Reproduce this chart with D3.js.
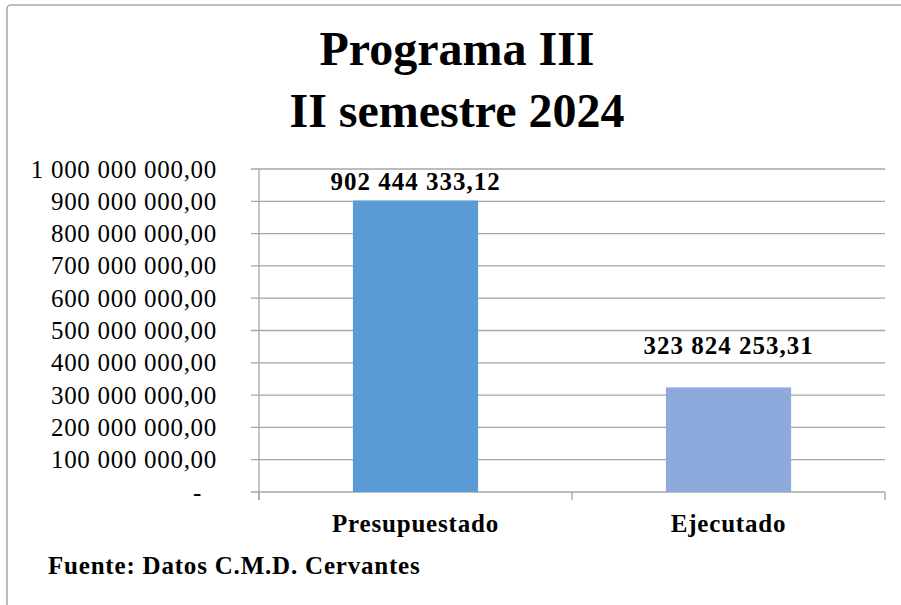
<!DOCTYPE html>
<html>
<head>
<meta charset="utf-8">
<script src="https://cdn.jsdelivr.net/npm/d3@7"></script>
<style>
  html, body { margin: 0; padding: 0; background: #fff; }
  svg { display: block; }
  text { font-family: "Liberation Serif", "Times New Roman", serif; fill: #000; }
</style>
</head>
<body>
<svg id="chart" width="901" height="605"></svg>
<script>
// ---- data ----
const categories = ["Presupuestado", "Ejecutado"];
const values = [902444333.12, 323824253.31];
const barColors = ["#5B9BD5", "#8EA9DB"];
const yTicks = [0, 100000000, 200000000, 300000000, 400000000, 500000000, 600000000, 700000000, 800000000, 900000000, 1000000000];
const titleLines = ["Programa III", "II semestre 2024"];
const sourceNote = "Fuente: Datos C.M.D. Cervantes";

// ---- layout ----
const plot = { left: 259, right: 885, top: 169, bottom: 492 };
const svg = d3.select("#chart");

const locale = d3.formatLocale({ decimal: ",", thousands: " ", grouping: [3], currency: ["", ""] });
const fmt = locale.format(",.2f");

// outer border (only top & left visible in frame)
svg.append("rect")
  .attr("x", 7).attr("y", 5).attr("width", 1200).attr("height", 1200)
  .attr("rx", 4)
  .attr("fill", "none").attr("stroke", "#ababab").attr("stroke-width", 1.6);

// title
svg.append("g").selectAll("text").data(titleLines).join("text")
  .attr("x", 457).attr("y", (d, i) => 65 + i * 62)
  .attr("text-anchor", "middle")
  .attr("font-weight", "bold").attr("font-size", 48)
  .text(d => d);

const x = d3.scaleBand().domain(categories).range([plot.left, plot.right])
  .paddingInner(0.6).paddingOuter(0.3);
const y = d3.scaleLinear().domain([0, 1000000000]).range([plot.bottom, plot.top]);

const gridColor = "#a6a6a6";

// gridlines
svg.append("g").selectAll("line").data(yTicks).join("line")
  .attr("x1", plot.left - 8).attr("x2", plot.right)
  .attr("y1", d => y(d)).attr("y2", d => y(d))
  .attr("stroke", gridColor).attr("stroke-width", 1.3);

// y axis line
svg.append("line")
  .attr("x1", plot.left).attr("x2", plot.left)
  .attr("y1", plot.top).attr("y2", plot.bottom + 8)
  .attr("stroke", gridColor).attr("stroke-width", 1.3);

// category tick marks
const catEdges = [plot.left, (plot.left + plot.right) / 2, plot.right];
svg.append("g").selectAll("line").data(catEdges).join("line")
  .attr("x1", d => d).attr("x2", d => d)
  .attr("y1", plot.bottom).attr("y2", plot.bottom + 8)
  .attr("stroke", gridColor).attr("stroke-width", 1.3);

// y tick labels
svg.append("g").selectAll("text").data(yTicks).join("text")
  .attr("x", d => d === 0 ? 202 : 217)
  .attr("y", d => y(d))
  .attr("dy", "0.34em")
  .attr("text-anchor", "end")
  .attr("font-size", 25)
  .attr("letter-spacing", 0.7)
  .style("white-space", "pre")
  .text(d => d === 0 ? "-" : fmt(d));

// bars
const data = categories.map((c, i) => ({ c, v: values[i], color: barColors[i] }));
svg.append("g").selectAll("rect").data(data).join("rect")
  .attr("x", d => x(d.c)).attr("width", x.bandwidth())
  .attr("y", d => y(d.v)).attr("height", d => y(0) - y(d.v))
  .attr("fill", d => d.color);

// data labels
svg.append("g").selectAll("text").data(data).join("text")
  .attr("x", d => x(d.c) + x.bandwidth() / 2)
  .attr("y", d => Math.max(y(d.v) - 33, plot.top + 21))
  .attr("text-anchor", "middle")
  .attr("font-weight", "bold").attr("font-size", 25)
  .attr("letter-spacing", 1)
  .style("white-space", "pre")
  .text(d => fmt(d.v));

// category labels
svg.append("g").selectAll("text").data(categories).join("text")
  .attr("x", d => x(d) + x.bandwidth() / 2)
  .attr("y", 532)
  .attr("text-anchor", "middle")
  .attr("font-weight", "bold").attr("font-size", 25)
  .attr("letter-spacing", 0.8)
  .text(d => d);

// source note
svg.append("text")
  .attr("x", 48).attr("y", 574)
  .attr("font-weight", "bold").attr("font-size", 25)
  .attr("letter-spacing", 0.8)
  .text(sourceNote);
</script>
</body>
</html>
